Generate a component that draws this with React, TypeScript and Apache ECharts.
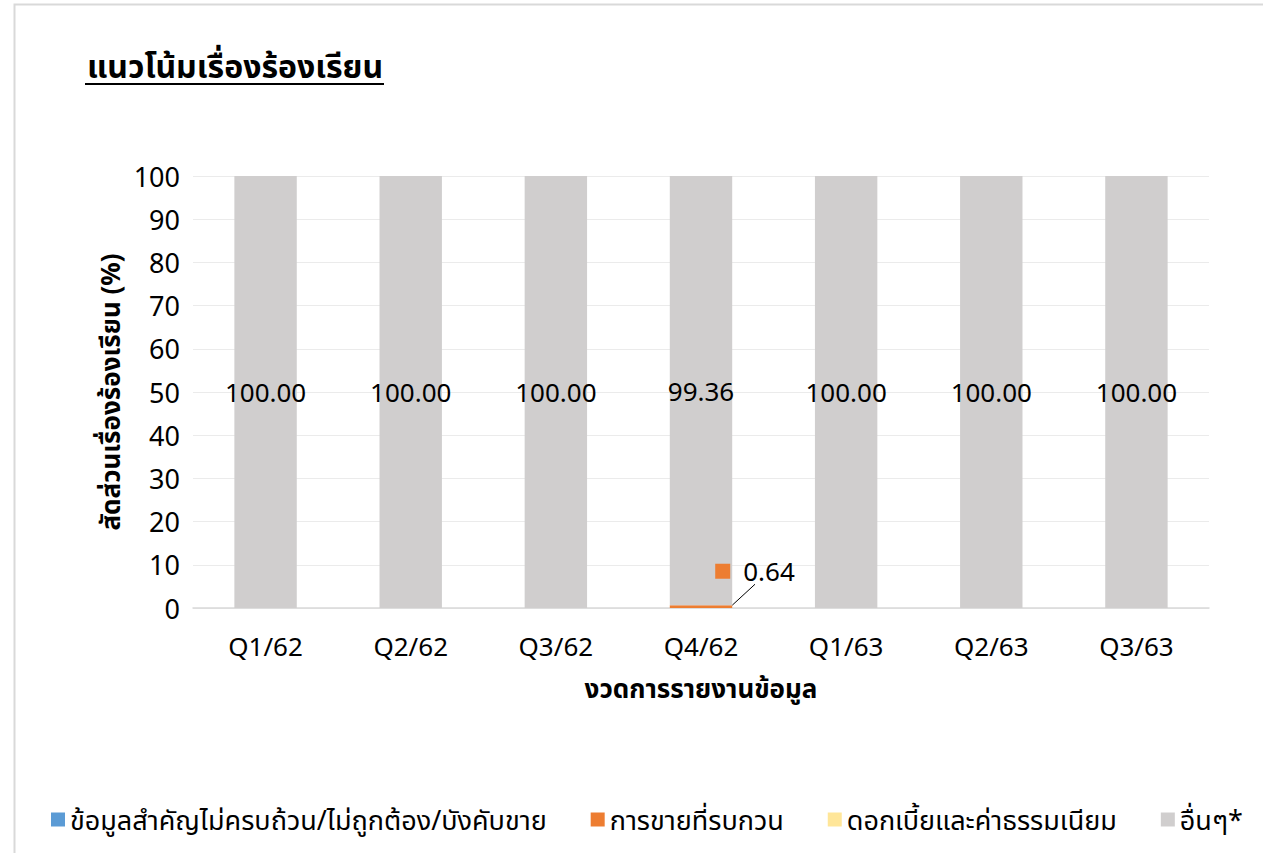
import React, { useEffect, useRef } from "react";
import * as echarts from "echarts";

const categories = ["Q1/62", "Q2/62", "Q3/62", "Q4/62", "Q1/63", "Q2/63", "Q3/63"];
const seriesNames = [
  "ข้อมูลสำคัญไม่ครบถ้วน/ไม่ถูกต้อง/บังคับขาย",
  "การขายที่รบกวน",
  "ดอกเบี้ยและค่าธรรมเนียม",
  "อื่นๆ*",
];
const infoValues = [0, 0, 0, 0, 0, 0, 0];
const disturbValues = [0, 0, 0, 0.64, 0, 0, 0];
const interestValues = [0, 0, 0, 0, 0, 0, 0];
const otherValues = [100, 100, 100, 99.36, 100, 100, 100];
const yTicks = { min: 0, max: 100, interval: 10 };
const titleText = "แนวโน้มเรื่องร้องเรียน";
const xName = "งวดการรายงานข้อมูล";
const yName = "สัดส่วนเรื่องร้องเรียน (%)";

const FONT = '"Noto Sans", "Noto Sans Thai", "DejaVu Sans", sans-serif';
const colors = ["#5B9BD5", "#ED7D31", "#FFE699", "#D0CECE"];

export default function App() {
  const ref = useRef<HTMLDivElement>(null);
  useEffect(() => {
    if (!ref.current) return;
    const chart = echarts.init(ref.current, null, { renderer: "svg" });
    chart.setOption({
      animation: false,
      backgroundColor: "#fff",
      textStyle: { fontFamily: FONT },
      title: {
        text: titleText,
        left: 82,
        top: 44,
        textStyle: { fontSize: 32, fontWeight: "bold", color: "#000", fontFamily: FONT },
      },
      graphic: [
        {
          type: "rect",
          shape: { x: 14.5, y: 4.5, width: 1400, height: 1000 },
          style: { fill: "none", stroke: "#D9D9D9", lineWidth: 2 },
          silent: true,
        },
        {
          type: "line",
          shape: { x1: 85, y1: 84, x2: 384, y2: 84 },
          style: { stroke: "#000", lineWidth: 2 },
        },
      ],
      legend: {
        bottom: 15,
        left: 46,
        itemWidth: 14,
        itemHeight: 14,
        itemGap: 44,
        icon: "rect",
        textStyle: { fontSize: 27, color: "#000", fontFamily: FONT },
        data: seriesNames,
      },
      grid: { left: 193, right: 54, top: 176, bottom: 245 },
      xAxis: {
        type: "category",
        data: categories,
        name: xName,
        nameLocation: "middle",
        nameGap: 67,
        nameTextStyle: { fontSize: 26, fontWeight: "bold", color: "#000", fontFamily: FONT },
        axisLine: { lineStyle: { color: "#D9D9D9", width: 1.5 } },
        axisTick: { show: false },
        axisLabel: { fontSize: 26, color: "#000", margin: 25 },
      },
      yAxis: {
        type: "value",
        min: yTicks.min,
        max: yTicks.max,
        interval: yTicks.interval,
        name: yName,
        nameLocation: "middle",
        nameGap: 57,
        nameTextStyle: { fontSize: 26, fontWeight: "bold", color: "#000", fontFamily: FONT },
        axisLine: { show: false },
        axisTick: { show: false },
        axisLabel: { fontSize: 27, color: "#000", margin: 13 },
        splitLine: { lineStyle: { color: "#EBEBEB", width: 1 } },
      },
      series: [
        {
          name: seriesNames[0],
          type: "bar",
          stack: "s",
          barWidth: "43%",
          itemStyle: { color: colors[0] },
          data: infoValues,
        },
        {
          name: seriesNames[1],
          type: "bar",
          stack: "s",
          itemStyle: { color: colors[1] },
          data: disturbValues.map((v) =>
            v > 0
              ? {
                  value: v,
                  label: {
                    show: true,
                    position: "top",
                    formatter: (p: any) => "{sq|}{v|" + p.value.toFixed(2) + "}",
                    rich: {
                      sq: { backgroundColor: colors[1], width: 15, height: 15 },
                      v: { fontSize: 26, color: "#000", fontFamily: FONT, padding: [0, 0, 0, 13] },
                    },
                  },
                }
              : v
          ),
          labelLayout: { dx: 54, dy: -16 },
          labelLine: { show: true, lineStyle: { color: "#000", width: 1 } },
        },
        {
          name: seriesNames[2],
          type: "bar",
          stack: "s",
          itemStyle: { color: colors[2] },
          data: interestValues,
        },
        {
          name: seriesNames[3],
          type: "bar",
          stack: "s",
          itemStyle: { color: colors[3] },
          label: {
            show: true,
            position: "inside",
            fontSize: 26,
            color: "#000",
            fontFamily: FONT,
            formatter: (p: any) => Number(p.value).toFixed(2),
          },
          data: otherValues,
        },
      ],
    });
    return () => chart.dispose();
  }, []);
  return (
    <div
      ref={ref}
      style={{ position: "absolute", left: 0, top: 0, width: 1263, height: 853 }}
    />
  );
}
